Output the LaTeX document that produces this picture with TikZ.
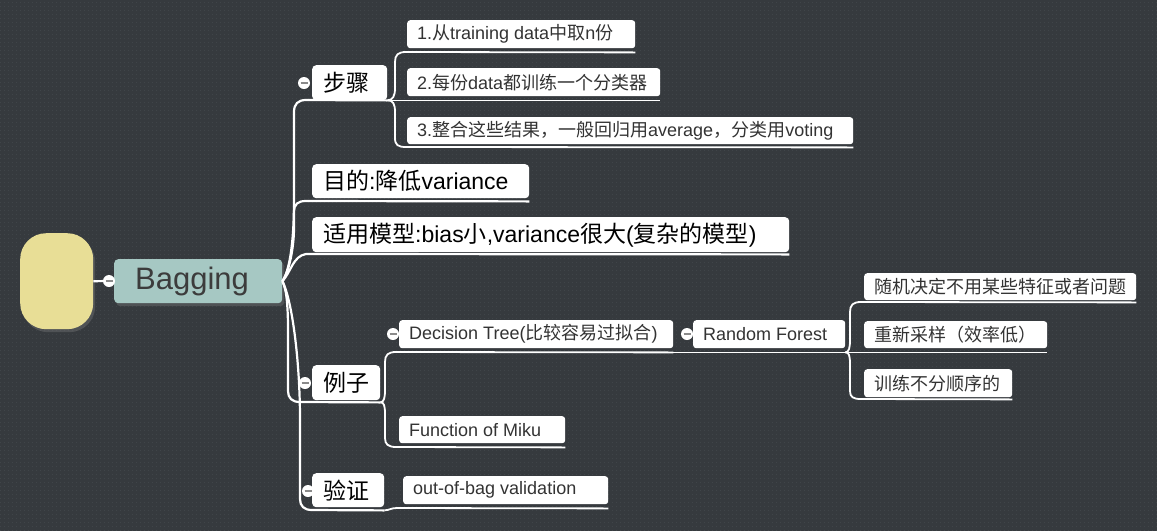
\documentclass[tikz,border=0pt]{standalone}
\usepackage{fontspec}
\setmainfont{Liberation Sans}
\newfontfamily\hanfont{Noto Sans CJK SC}
\usetikzlibrary{positioning,shadows,patterns.meta}

% han characters are set in Noto Sans CJK
\newXeTeXintercharclass\hanclass
\newcount\hanc
\hanc="4E00
\loop
\XeTeXcharclass\hanc=\hanclass
\advance\hanc by 1
\ifnum\hanc<"A000 \repeat
\XeTeXcharclass"FF08=\hanclass
\XeTeXcharclass"FF09=\hanclass
\XeTeXcharclass"FF0C=\hanclass
\XeTeXinterchartoks 0 \hanclass={\begingroup\hanfont}
\XeTeXinterchartoks 4095 \hanclass={\begingroup\hanfont}
\XeTeXinterchartoks \hanclass 0={\endgroup}
\XeTeXinterchartoks \hanclass 4095={\endgroup}
\XeTeXinterchartokenstate=1

\definecolor{bgc}{HTML}{363A3E}
\definecolor{dotc}{HTML}{444A4E}
\definecolor{bagc}{HTML}{A6C8C3}
\definecolor{floatc}{HTML}{E8DE96}
\definecolor{subtxt}{HTML}{333333}
\definecolor{bagtxt}{HTML}{3C3C3C}
\definecolor{foldbar}{HTML}{8A8A8A}

\tikzdeclarepattern{
  name=bgdots,
  type=uncolored,
  bounding box={(0pt,0pt) and (4pt,4pt)},
  tile size={(4pt,4pt)},
  code={\fill (2pt,2pt) circle (0.6pt);}
}

\newcommand{\lbl}[2]{\makebox[#1][l]{#2}}

\tikzset{
  floatbox/.style={fill=floatc, rounded corners=26pt, minimum width=73pt,
    minimum height=96pt, anchor=north west, inner sep=0pt,
    drop shadow={shadow xshift=2pt, shadow yshift=-3pt, opacity=.35}},
  centre/.style={fill=bagc, rounded corners=4pt, text=bagtxt,
    font=\fontsize{31}{36}\selectfont, anchor=north west, inner xsep=21pt,
    inner ysep=0pt, minimum height=44pt,
    drop shadow={shadow xshift=2pt, shadow yshift=-3pt, opacity=.35}},
  topic/.style={fill=white, rounded corners=4pt, text=black,
    font=\fontsize{23}{27}\selectfont, anchor=north west, inner xsep=11pt,
    inner ysep=0pt, minimum height=35pt},
  sub/.style={fill=white, rounded corners=3pt, text=subtxt,
    font=\fontsize{18}{21}\selectfont, anchor=north west, inner xsep=10pt,
    inner ysep=0pt, minimum height=28pt},
  fold/.style={circle, fill=white, minimum size=12pt, inner sep=0pt,
    path picture={\draw[foldbar, line width=1.4pt]
      ([xshift=-3.5pt]path picture bounding box.center) --
      ([xshift=3.5pt]path picture bounding box.center);}},
  trunk/.style={draw=white, line width=2.2pt},
  twig/.style={draw=white, line width=1.8pt}
}

\begin{document}
\begin{tikzpicture}[x=1pt,y=-1pt]
\fill[bgc] (0,0) rectangle (1157,531);
\fill[pattern=bgdots, pattern color=dotc] (0,0) rectangle (1157,531);
\useasboundingbox (0,0) rectangle (1157,531);

% central topic
\node[floatbox] (float) at (20,233) {};
\node[centre] (bag) at (114,259) {\lbl{126pt}{Bagging}};

% main topics
\node[topic] (buzhou) at (312,65) {\lbl{53pt}{步骤}};
\node[topic, minimum height=34pt] (mudi) at (312,164) {\lbl{195pt}{目的:降低variance}};
\node[topic] (shiyong) at (312,217) {\lbl{455pt}{适用模型:bias小,variance很大(复杂的模型)}};
\node[topic] (lizi) at (312,365) {\lbl{46pt}{例子}};
\node[topic, minimum height=34pt] (yanzheng) at (312,473) {\lbl{50pt}{验证}};

% subtopics
\node[sub] (s1) at (407,20) {\lbl{208pt}{1.从training data中取n份}};
\node[sub] (s2) at (407,68) {\lbl{233pt}{2.每份data都训练一个分类器}};
\node[sub, minimum height=27pt] (s3) at (407,117) {\lbl{426pt}{3.整合这些结果，一般回归用average，分类用voting}};
\node[sub] (dt) at (399,320) {\lbl{254pt}{Decision Tree(比较容易过拟合)}};
\node[sub] (rf) at (693,320) {\lbl{132pt}{Random Forest}};
\node[sub, minimum height=27pt] (fm) at (399,416) {\lbl{146pt}{Function of Miku}};
\node[sub, minimum height=27pt] (r1) at (864,273) {\lbl{252pt}{随机决定不用某些特征或者问题}};
\node[sub, minimum height=27pt] (r2) at (864,321) {\lbl{163pt}{重新采样（效率低）}};
\node[sub] (r3) at (864,369) {\lbl{128pt}{训练不分顺序的}};
\node[sub] (oob) at (403,476) {\lbl{185pt}{out-of-bag validation}};

% branches from the centre
\draw[trunk] (float.east) -- (109,281);
\draw[trunk] (bag.east) .. controls (290,270) and (294,240) .. (294,200)
  -- (294,112) .. controls (294,104) and (298,100) .. (306,100) -- (buzhou.south east);
\draw[trunk] (bag.east) .. controls (290,270) and (294,245) .. (294,228)
  -- (294,212) .. controls (294,204) and (298,201) .. (306,201) -- ([yshift=-3pt]mudi.south east);
\draw[trunk] (bag.east) .. controls (291,272) and (293,256) .. (306,254)
  -- ([yshift=-2pt]shiyong.south east);
\draw[trunk] (bag.east) .. controls (287,290) and (288,310) .. (288,330)
  -- (288,391) .. controls (288,398) and (292,402) .. (300,402) -- ([yshift=-2pt]lizi.south east);
\draw[trunk] (bag.east) .. controls (292,300) and (300,360) .. (300,420)
  -- (300,499) .. controls (300,506) and (304,510) .. (312,510) -- ([yshift=-3pt]yanzheng.south east);

% steps
\draw[twig] (buzhou.south east) .. controls (393,100) and (395,96) .. (395,88)
  -- (395,62) .. controls (395,55) and (398,52) .. (406,52) -- ([yshift=-4pt]s1.south east);
\draw[twig] (buzhou.south east) -- ([yshift=-4pt]s2.south east);
\draw[twig] (buzhou.south east) .. controls (393,100) and (395,104) .. (395,112)
  -- (395,138) .. controls (395,145) and (398,147) .. (406,147) -- ([yshift=-3pt]s3.south east);

% examples
\coordinate (l0) at ([yshift=-2pt]lizi.south east);
\draw[twig] (l0) .. controls (384,402) and (385,398) .. (385,390)
  -- (385,362) .. controls (385,355) and (388,352) .. (396,352) -- ([yshift=-4pt]dt.south east);
\draw[twig] (l0) .. controls (384,402) and (385,406) .. (385,414)
  -- (385,438) .. controls (385,444) and (388,447) .. (396,447) -- ([yshift=-4pt]fm.south east);
\draw[twig] ([yshift=-4pt]dt.south east) -- ([yshift=-4pt]rf.south east);

% random forest
\coordinate (r0) at ([yshift=-4pt]rf.south east);
\draw[twig] (r0) .. controls (849,352) and (850,348) .. (850,340)
  -- (850,312) .. controls (850,305) and (853,302) .. (861,302) -- ([yshift=-2pt]r1.south east);
\draw[twig] (r0) -- ([yshift=-4pt]r2.south east);
\draw[twig] (r0) .. controls (849,352) and (850,356) .. (850,364)
  -- (850,391) .. controls (850,397) and (853,399) .. (861,399) -- ([yshift=-2pt]r3.south east);

% validation
\draw[twig] ([yshift=-3pt]yanzheng.south east) .. controls (390,510) and (391,508) .. (397,508)
  -- ([yshift=-4pt]oob.south east);

% fold buttons
\node[fold] (f0) at (109,281) {};
\node[fold] (f1) at (304,83) {};
\node[fold] (f2) at (305,383) {};
\node[fold] (f3) at (308,491) {};
\node[fold] (f4) at (393,334) {};
\node[fold] (f5) at (687,334) {};
\end{tikzpicture}
\end{document}
